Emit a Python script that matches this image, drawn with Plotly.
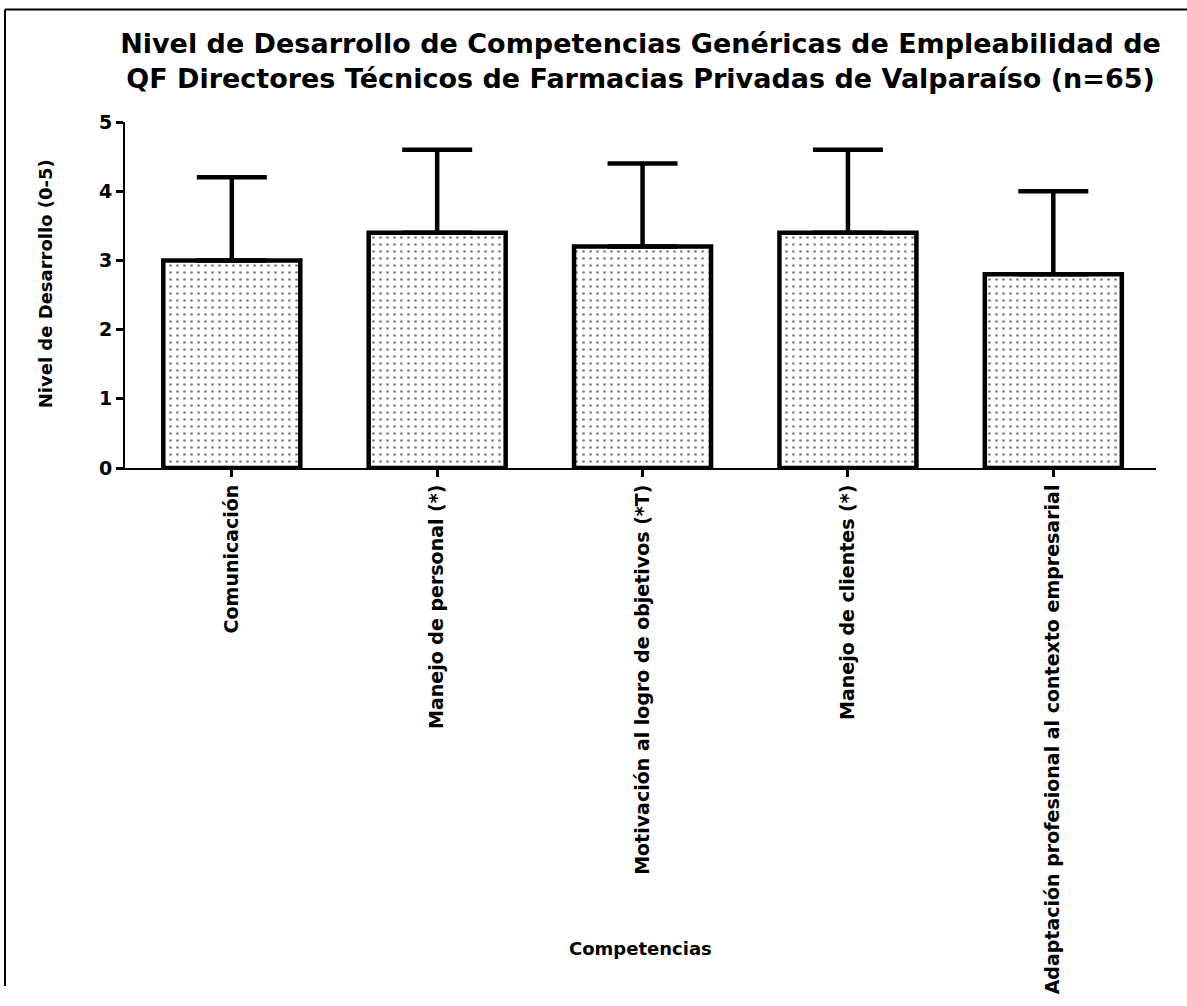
import plotly.graph_objects as go

# Competencias genéricas evaluadas (eje X)
competencias = [
    "Comunicación",
    "Manejo de personal (*)",
    "Motivación al logro de objetivos (*T)",
    "Manejo de clientes (*)",
    "Adaptación profesional al contexto empresarial",
]
# Nivel medio de desarrollo (escala 0-5) y desviación estándar
nivel_medio = [3.0, 3.4, 3.2, 3.4, 2.8]
desv_estandar = [1.2, 1.2, 1.2, 1.2, 1.2]
y_ticks = [0, 1, 2, 3, 4, 5]

titulo = ("Nivel de Desarrollo de Competencias Genéricas de Empleabilidad de<br>"
          "QF Directores Técnicos de Farmacias Privadas de Valparaíso (n=65)")

W, H = 1187, 1006
ML, MR, MT, MB = 125, 31, 122, 530
FONT = "DejaVu Sans, Arial, sans-serif"

fig = go.Figure()
fig.add_trace(go.Bar(
    x=competencias,
    y=nivel_medio,
    width=0.667,
    marker=dict(
        color="white",
        line=dict(color="black", width=4.5),
        pattern=dict(shape=".", fgcolor="black", bgcolor="white",
                     size=7, solidity=0.12, fillmode="overlay"),
    ),
    error_y=dict(type="data", symmetric=False, array=desv_estandar,
                 arrayminus=[0] * len(desv_estandar),
                 color="black", thickness=4.5, width=35),
    showlegend=False,
))

# frame lines along the top and left edges of the page
pw = W - ML - MR
ph = H - MT - MB
def px_x(p):
    return (p - ML) / pw
def px_y(p):
    return 1 - (p - MT) / ph

fig.add_shape(type="line", xref="paper", yref="paper",
              x0=px_x(5), x1=px_x(W), y0=px_y(7), y1=px_y(7),
              line=dict(color="black", width=2))
fig.add_shape(type="line", xref="paper", yref="paper",
              x0=px_x(5), x1=px_x(5), y0=px_y(7), y1=px_y(H),
              line=dict(color="black", width=2))

fig.add_annotation(text="Competencias", xref="paper", yref="paper",
                   x=0.5, y=px_y(968), showarrow=False,
                   xanchor="center", yanchor="middle",
                   font=dict(family=FONT, size=18, color="black", weight="bold"))
fig.add_annotation(text="Nivel de Desarrollo (0-5)", xref="paper", yref="paper",
                   x=px_x(45), y=px_y(288), showarrow=False, textangle=-90,
                   xanchor="center", yanchor="middle",
                   font=dict(family=FONT, size=18, color="black", weight="bold"))

fig.update_layout(
    width=W, height=H, autosize=False,
    margin=dict(l=ML, r=MR, t=MT, b=MB),
    paper_bgcolor="white", plot_bgcolor="white",
    title=dict(text=titulo, x=0.5, xref="paper", xanchor="center",
               y=1 - 53 / H, yref="container", yanchor="middle",
               font=dict(family=FONT, size=27, color="black", weight="bold")),
    xaxis=dict(range=[-0.52, 4.5], showgrid=False, zeroline=False,
               showline=True, linecolor="black", linewidth=2,
               ticks="outside", ticklen=7, tickwidth=3, tickcolor="black",
               tickangle=-90,
               tickfont=dict(family=FONT, size=19, color="black", weight="bold")),
    yaxis=dict(range=[0, 5], tickvals=y_ticks, showgrid=False, zeroline=False,
               showline=True, linecolor="black", linewidth=2,
               ticks="outside", ticklen=7, tickwidth=3, tickcolor="black",
               tickfont=dict(family=FONT, size=19, color="black", weight="bold")),
)

fig.write_html("out.html")
